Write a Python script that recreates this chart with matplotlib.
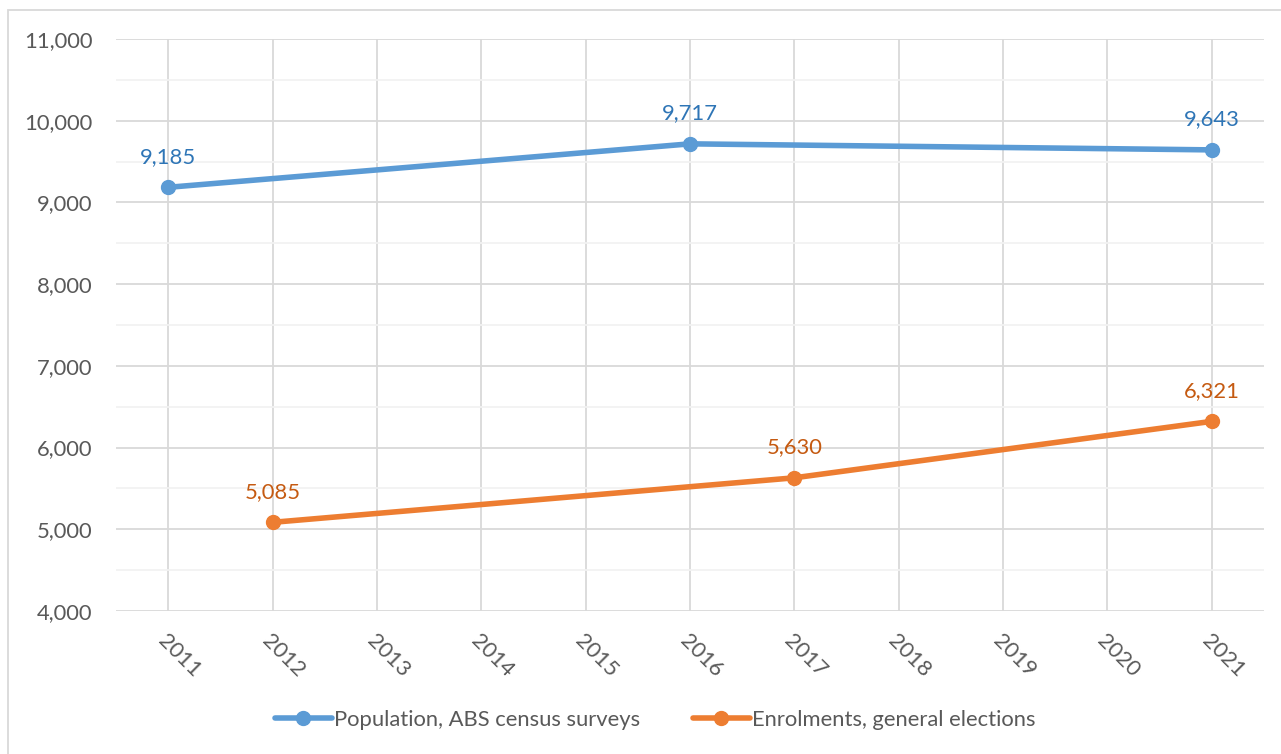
import matplotlib
matplotlib.use("Agg")
import matplotlib.pyplot as plt
from matplotlib.ticker import MultipleLocator, FuncFormatter
from matplotlib.patches import Rectangle

years = list(range(2011, 2022))
pop_years = [2011, 2016, 2021]
pop_values = [9185, 9717, 9643]
enr_years = [2012, 2017, 2021]
enr_values = [5085, 5630, 6321]
pop_label = "Population, ABS census surveys"
enr_label = "Enrolments, general elections"

plt.rcParams['font.family'] = ['Lato', 'DejaVu Sans']
FS = 15.8

fig = plt.figure(figsize=(12.81, 7.54), dpi=100)
ax = fig.add_axes([116/1281, 1-611/754, (1264-116)/1281, (611-39)/754])

blue = "#5B9BD5"
orange = "#ED7D31"
ax.plot(pop_years, pop_values, color=blue, lw=4, marker='o', ms=10, label=pop_label, zorder=3, solid_capstyle='round')
ax.plot(enr_years, enr_values, color=orange, lw=4, marker='o', ms=10, label=enr_label, zorder=3, solid_capstyle='round')

for x, y in zip(pop_years, pop_values):
    ax.annotate(f"{y:,}", (x, y), xytext=(0, 22), textcoords='offset points', ha='center', va='center', color="#2E75B6", fontsize=FS)
for x, y in zip(enr_years, enr_values):
    ax.annotate(f"{y:,}", (x, y), xytext=(0, 22), textcoords='offset points', ha='center', va='center', color="#C55A11", fontsize=FS)

ax.set_xlim(2010.5, 2021.5)
ax.set_ylim(4000, 11000)
ax.yaxis.set_major_locator(MultipleLocator(1000))
ax.yaxis.set_minor_locator(MultipleLocator(500))
ax.yaxis.set_major_formatter(FuncFormatter(lambda v, p: f"{int(v):,}"))
ax.set_xticks(years)
ax.set_xticklabels([str(y) for y in years], rotation=-45, ha='left', rotation_mode='anchor')
ax.grid(which='major', axis='y', color="#D9D9D9", lw=1.3)
ax.grid(which='minor', axis='y', color="#F2F2F2", lw=1.3)
ax.grid(which='major', axis='x', color="#D9D9D9", lw=1.3)
ax.set_axisbelow(True)
for s in ax.spines.values():
    s.set_visible(False)
ax.tick_params(axis='both', which='both', length=0, labelsize=FS, colors="#595959")
ax.tick_params(axis='x', pad=14)
ax.tick_params(axis='y', pad=17)

leg = fig.legend(loc='center', bbox_to_anchor=(655/1281, 1-720/754), ncol=2, frameon=False,
                 fontsize=FS, handlelength=2.6, columnspacing=2.4, handletextpad=0.1, labelcolor="#595959")

fig.patches.append(Rectangle((8/1281, -0.01), 1.0, 1-10/754+0.01, transform=fig.transFigure,
                             fill=False, edgecolor="#D9D9D9", lw=1.3))

fig.savefig("out.png", dpi=100)
